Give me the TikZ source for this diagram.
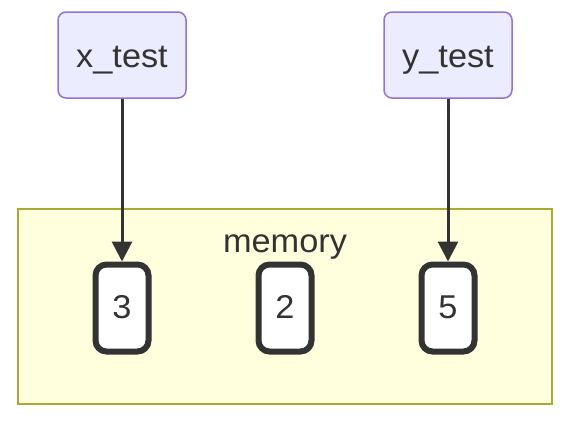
\documentclass[tikz,border=0pt]{standalone}
\usepackage{fontspec}
\setmainfont{Liberation Sans}[FakeStretch=1.04]
\usepackage{xcolor}
\definecolor{inputfill}{HTML}{ECECFF}
\definecolor{inputline}{HTML}{9370DB}
\definecolor{memfill}{HTML}{FFFFDE}
\definecolor{memline}{HTML}{AAAA33}
\definecolor{darkgrey}{HTML}{333333}
\usepackage{tikz}
\usetikzlibrary{arrows.meta}
\newcommand{\txtsize}{\fontsize{33}{38}\selectfont}
\tikzset{
    common/.style={draw, rectangle, text=darkgrey, font=\txtsize, text depth=0pt},
    input/.style={common, fill=inputfill, draw=inputline, line width=1.5pt, rounded corners=8pt, minimum width=128pt, minimum height=86pt, text height=24pt},
    cell/.style={common, fill=white, draw=darkgrey, line width=6pt, rounded corners=11pt, minimum width=53pt, minimum height=87pt, text height=20pt},
    cluster/.style={fill=memfill, draw=memline, line width=1.5pt},
    link/.style={-{Triangle[length=20pt,width=20pt]}, line width=3pt, darkgrey}
}
\begin{document}
\begin{tikzpicture}[x=1pt, y=-1pt]
    \useasboundingbox (0,0) rectangle (575,421);
    \draw[cluster] (18,209) rectangle (552,404);
    \node[text=darkgrey, font=\txtsize, anchor=base] (memlabel) at (285,252) {memory};

    \path
        (122,55) node[input] (xtest) {x\_test}
        (448,55) node[input] (ytest) {y\_test};
    \path
        (122,308) node[cell] (c3) {3}
        (285,308) node[cell] (c2) {2}
        (448,308) node[cell] (c5) {5};

    \draw[link] (xtest) -- (c3);
    \draw[link] (ytest) -- (c5);
\end{tikzpicture}
\end{document}
